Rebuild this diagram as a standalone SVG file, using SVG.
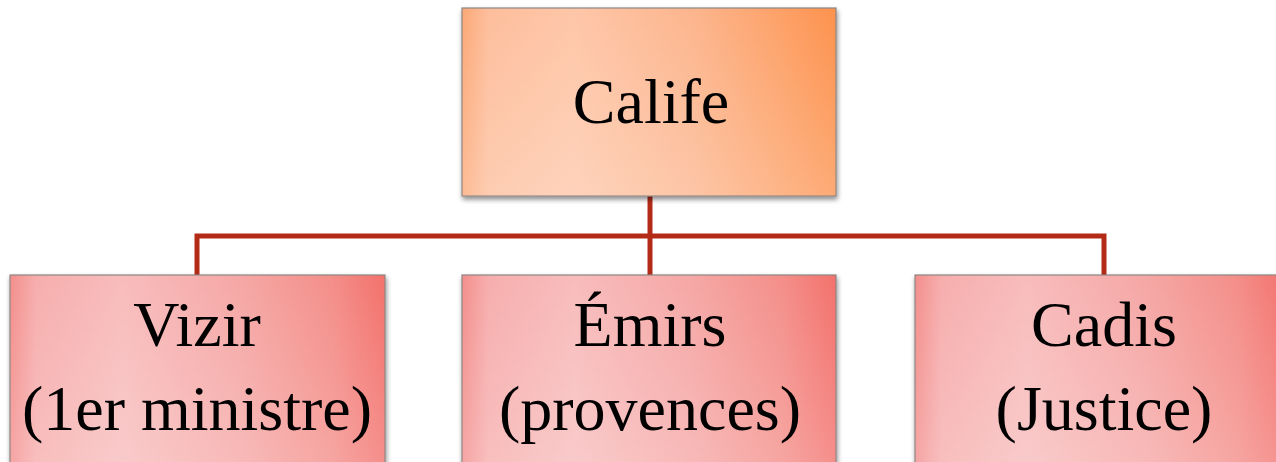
<svg xmlns="http://www.w3.org/2000/svg" width="1276" height="462" viewBox="0 0 1276 462">
<defs>
<linearGradient id="gOrange" x1="0" y1="0" x2="1" y2="0">
<stop offset="0" stop-color="#FCA876"/>
<stop offset="0.07" stop-color="#FDBE9C"/>
<stop offset="0.3" stop-color="#FEC6A8"/>
<stop offset="0.62" stop-color="#FCB58D"/>
<stop offset="0.86" stop-color="#FDA066"/>
<stop offset="1" stop-color="#FD924E"/>
</linearGradient>
<linearGradient id="gRed" x1="0" y1="0" x2="1" y2="0">
<stop offset="0" stop-color="#F38E8C"/>
<stop offset="0.07" stop-color="#F6AEAD"/>
<stop offset="0.3" stop-color="#F8BCBC"/>
<stop offset="0.62" stop-color="#F5A7A5"/>
<stop offset="0.86" stop-color="#F48E89"/>
<stop offset="1" stop-color="#F3716C"/>
</linearGradient>
<linearGradient id="gGloss" x1="0" y1="0" x2="0" y2="1">
<stop offset="0" stop-color="#FFFFFF" stop-opacity="0"/>
<stop offset="1" stop-color="#FFFFFF" stop-opacity="0.22"/>
</linearGradient>
<filter id="shadow" x="-10%" y="-10%" width="120%" height="130%">
<feGaussianBlur in="SourceAlpha" stdDeviation="2.5"/>
<feOffset dx="1" dy="3" result="b"/>
<feComponentTransfer><feFuncA type="linear" slope="0.45"/></feComponentTransfer>
<feMerge><feMergeNode/><feMergeNode in="SourceGraphic"/></feMerge>
</filter>
</defs>
<style>
.box{stroke:#8E8682;stroke-width:1.2;filter:url(#shadow)}
.gloss{fill:url(#gGloss);stroke:none}
.lbl{font-family:"Liberation Serif","DejaVu Serif",serif;font-size:64px;fill:#000;text-anchor:middle}
.conn{stroke:#B32B17;stroke-width:5;fill:none}
</style>
<rect width="1276" height="462" fill="#FFFFFF"/>
<g id="connectors">
<path class="conn" d="M650,196 V275"/>
<path class="conn" d="M197,275 V236 H1104 V275"/>
</g>
<g id="calife">
<rect class="box" x="462" y="8" width="374" height="188" fill="url(#gOrange)"/>
<rect class="gloss" x="462.6" y="8.6" width="372.8" height="186.8"/>
<text class="lbl" x="651" y="123">Calife</text>
</g>
<g id="vizir">
<rect class="box" x="10" y="275" width="375" height="200" fill="url(#gRed)"/>
<rect class="gloss" x="10.6" y="275.6" width="373.8" height="198.8"/>
<text class="lbl" x="197" y="346">Vizir</text>
<text class="lbl" x="197" y="430">(1er ministre)</text>
</g>
<g id="emirs">
<rect class="box" x="462" y="275" width="374" height="200" fill="url(#gRed)"/>
<rect class="gloss" x="462.6" y="275.6" width="372.8" height="198.8"/>
<text class="lbl" x="650" y="346">Émirs</text>
<text class="lbl" x="650" y="430">(provences)</text>
</g>
<g id="cadis">
<rect class="box" x="915" y="275" width="374" height="200" fill="url(#gRed)"/>
<rect class="gloss" x="915.6" y="275.6" width="372.8" height="198.8"/>
<text class="lbl" x="1104" y="346">Cadis</text>
<text class="lbl" x="1104" y="430">(Justice)</text>
</g>
</svg>
